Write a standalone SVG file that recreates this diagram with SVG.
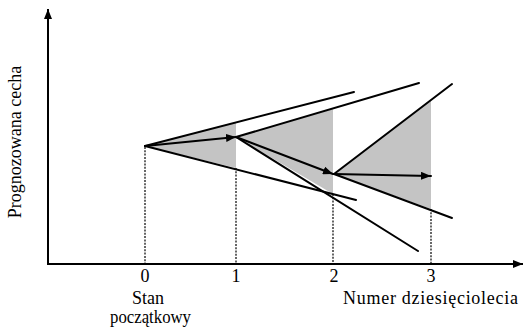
<svg xmlns="http://www.w3.org/2000/svg" width="524" height="327" viewBox="0 0 524 327">
<style>
.ln{stroke:#000;stroke-width:2;fill:none;stroke-linecap:round}
.ax{stroke:#000;stroke-width:2;fill:none}
.dot{stroke:#000;stroke-width:1.2;stroke-dasharray:2 1.3;fill:none}
.sh{fill:#c4c4c4;stroke:none}
.t{font-family:"Liberation Serif","Times New Roman",serif;font-size:18px;fill:#000}
</style>
<defs>
<marker id="ah" viewBox="0 0 10 8" refX="10" refY="4" markerWidth="10" markerHeight="8" markerUnits="userSpaceOnUse" orient="auto">
<path d="M0,0 L10,4 L0,8 Z" fill="#000"/>
</marker>
<marker id="axh" viewBox="0 0 10 8" refX="10" refY="4" markerWidth="10" markerHeight="8" markerUnits="userSpaceOnUse" orient="auto">
<path d="M0,0 L10,4 L0,8 Z" fill="#000"/>
</marker>
</defs>
<g id="shading">
<polygon class="sh" points="145,146 236,122 236,168"/>
<polygon class="sh" points="236,137 333,109 333,194"/>
<polygon class="sh" points="334,174 431,100 431,209"/>
</g>
<g id="guides">
<line class="dot" x1="145" y1="147" x2="145" y2="263"/>
<line class="dot" x1="236" y1="168" x2="236" y2="263"/>
<line class="dot" x1="333" y1="194" x2="333" y2="263"/>
<line class="dot" x1="431" y1="209" x2="431" y2="263"/>
</g>
<g id="axes">
<polyline class="ax" points="48,10 48,264 522,264"/>
<line class="ax" x1="48" y1="264" x2="48" y2="9" marker-end="url(#axh)"/>
<line class="ax" x1="48" y1="264" x2="523" y2="264" marker-end="url(#axh)"/>
</g>
<g id="connectors">
<line class="ln" x1="145" y1="146" x2="354" y2="92"/>
<line class="ln" x1="145" y1="146" x2="356" y2="200"/>
<line class="ln" x1="145" y1="146" x2="236" y2="137" marker-end="url(#ah)"/>
<line class="ln" x1="236" y1="137" x2="419" y2="83"/>
<line class="ln" x1="236" y1="137" x2="418" y2="251"/>
<line class="ln" x1="236" y1="137" x2="333" y2="174" marker-end="url(#ah)"/>
<line class="ln" x1="334" y1="174" x2="452" y2="84"/>
<line class="ln" x1="334" y1="174" x2="452" y2="218"/>
<line class="ln" x1="334" y1="174" x2="431" y2="176" marker-end="url(#ah)"/>
</g>
<g id="labels">
<text class="t" x="145" y="282" text-anchor="middle">0</text>
<text class="t" x="236" y="282" text-anchor="middle">1</text>
<text class="t" x="334" y="282" text-anchor="middle">2</text>
<text class="t" x="431" y="282" text-anchor="middle">3</text>
<text class="t" x="148" y="304" text-anchor="middle">Stan</text>
<text class="t" x="110" y="323" textLength="81" lengthAdjust="spacingAndGlyphs">początkowy</text>
<text class="t" x="343" y="304" textLength="175" lengthAdjust="spacing">Numer dziesięciolecia</text>
<text class="t" transform="translate(21,142) rotate(-90)" text-anchor="middle">Prognozowana cecha</text>
</g>
</svg>
